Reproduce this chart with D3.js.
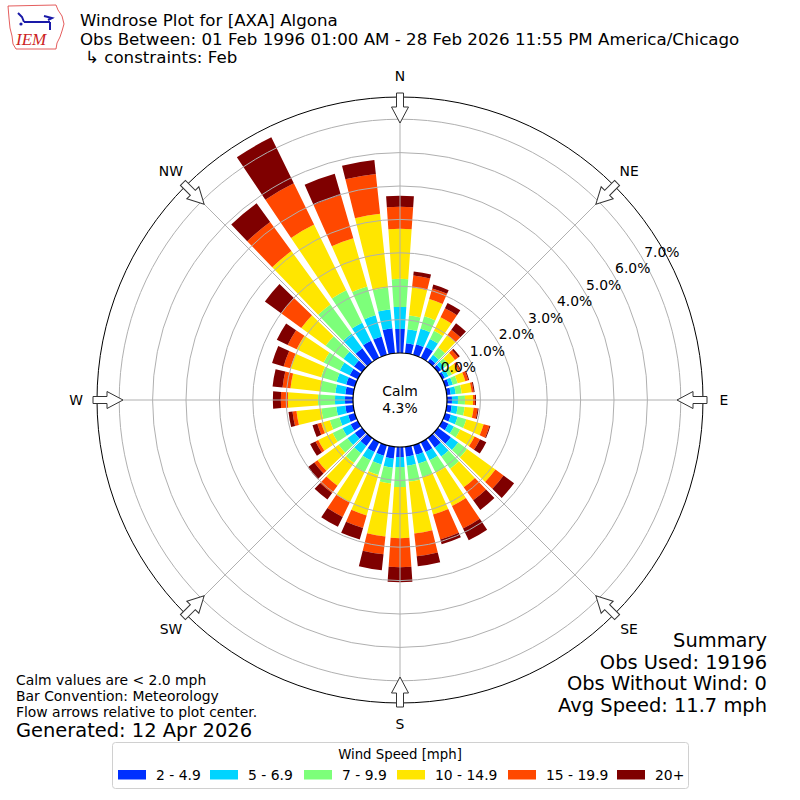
<!DOCTYPE html>
<html>
<head>
<meta charset="utf-8">
<script src="https://cdn.jsdelivr.net/npm/d3@7"></script>
<style>
  body { margin: 0; background: #fff; }
  svg { display: block; font-family: "DejaVu Sans", sans-serif; }
</style>
</head>
<body>
<div id="chart"></div>
<script>
// windrose for AXA Algona, Feb -- percent of obs per 10 degree bin and speed class
const directions = [0, 10, 20, 30, 40, 50, 60, 70, 80, 90, 100, 110, 120, 130, 140, 150, 160, 170,
  180, 190, 200, 210, 220, 230, 240, 250, 260, 270, 280, 290, 300, 310, 320, 330, 340, 350];

const spd2to5 = [0.72, 0.30, 0.33, 0.36, 0.12, 0.12, 0.09, 0.12, 0.12, 0.15, 0.15, 0.18, 0.21, 0.48, 0.36, 0.33, 0.30, 0.30,
  0.30, 0.36, 0.33, 0.33, 0.30, 0.27, 0.24, 0.21, 0.24, 0.24, 0.24, 0.27, 0.27, 0.30, 0.51, 0.57, 0.57, 0.75];
const spd5to7 = [0.66, 0.42, 0.48, 0.27, 0.15, 0.12, 0.12, 0.12, 0.15, 0.18, 0.18, 0.21, 0.18, 0.27, 0.33, 0.27, 0.27, 0.27,
  0.30, 0.27, 0.27, 0.27, 0.27, 0.27, 0.27, 0.27, 0.27, 0.30, 0.30, 0.30, 0.33, 0.39, 0.54, 0.60, 0.66, 0.57];
const spd7to10 = [0.84, 0.42, 0.39, 0.27, 0.27, 0.15, 0.12, 0.15, 0.18, 0.21, 0.21, 0.27, 0.21, 0.33, 0.45, 0.42, 0.42, 0.48,
  0.60, 0.48, 0.33, 0.39, 0.36, 0.33, 0.33, 0.30, 0.45, 0.51, 0.45, 0.48, 0.54, 0.66, 1.08, 1.08, 0.90, 0.66];
const spd10to15 = [1.50, 0.84, 0.54, 0.45, 0.45, 0.24, 0.21, 0.24, 0.30, 0.24, 0.27, 0.54, 0.48, 1.05, 0.69, 1.11, 1.17, 1.56,
  1.53, 1.59, 1.26, 1.02, 0.84, 0.78, 0.48, 0.27, 0.75, 0.90, 0.90, 0.96, 0.90, 0.90, 1.98, 2.19, 1.50, 2.22];
const spd15to20 = [0.66, 0.36, 0.33, 0.30, 0.21, 0.12, 0.06, 0.09, 0.06, 0.06, 0.12, 0.18, 0.18, 0.30, 0.48, 0.75, 0.78, 0.69,
  0.87, 0.54, 0.39, 0.48, 0.27, 0.12, 0.09, 0.12, 0.12, 0.21, 0.24, 0.21, 0.30, 0.75, 1.08, 1.38, 1.35, 1.20];
const spd20plus = [0.33, 0.12, 0.12, 0.18, 0.24, 0.06, 0.03, 0.03, 0.03, 0.03, 0.03, 0.03, 0.21, 0.39, 0.36, 0.39, 0.15, 0.30,
  0.45, 0.48, 0.36, 0.33, 0.24, 0.24, 0.18, 0.15, 0.12, 0.24, 0.30, 0.36, 0.36, 0.60, 0.69, 1.53, 0.66, 0.42];

const speedLabels = ["2 - 4.9", "5 - 6.9", "7 - 9.9", "10 - 14.9", "15 - 19.9", "20+"];
const speedColors = ["#0030ff", "#00d4ff", "#7dff7a", "#ffe600", "#ff4800", "#7f0000"];
const ringTicks = [0, 1, 2, 3, 4, 5, 6, 7];
const compassNames = ["N", "NE", "E", "SE", "S", "SW", "W", "NW"];
const compassAngles = [0, 45, 90, 135, 180, 225, 270, 315];
const calmPct = 4.3;

const titleLines = [
  "Windrose Plot for [AXA] Algona",
  "Obs Between: 01 Feb 1996 01:00 AM - 28 Feb 2026 11:55 PM America/Chicago",
  "↳ constraints: Feb"
];
const noteLines = ["Calm values are < 2.0 mph", "Bar Convention: Meteorology", "Flow arrows relative to plot center."];
const generatedText = "Generated: 12 Apr 2026";
const summaryLines = ["Summary", "Obs Used: 19196", "Obs Without Wind: 0", "Avg Speed: 11.7 mph"];

const W = 800, H = 800, cx = 400, cy = 400;
const rCalm = 47, rOuter = 303;
const fs10 = '13.9px', fs12 = '16.67px', fs14 = '19.44px';   // 10/12/14 pt at 100 dpi

const svg = d3.select('#chart').append('svg')
  .attr('width', W).attr('height', H);

// radius scale: 0% sits on the calm circle
const r = d3.scaleLinear().domain([0, (rOuter - rCalm) / 33.4]).range([rCalm, rOuter]);

const series = [spd2to5, spd5to7, spd7to10, spd10to15, spd15to20, spd20plus];
const rows = directions.map((dir, i) => {
  const row = { dir };
  speedLabels.forEach((k, j) => { row[k] = series[j][i]; });
  return row;
});
const stacked = d3.stack().keys(speedLabels)(rows);

const plot = svg.append('g').attr('transform', `translate(${cx},${cy})`);
const halfW = 3.9 * Math.PI / 180;
const toRad = d => d * Math.PI / 180;

const arc = d3.arc()
  .startAngle(d => toRad(d.data.dir) - halfW)
  .endAngle(d => toRad(d.data.dir) + halfW)
  .innerRadius(d => r(d[0]))
  .outerRadius(d => r(d[1]));

plot.selectAll('g.layer')
  .data(stacked)
  .enter().append('g')
  .attr('class', 'layer')
  .attr('fill', (d, i) => speedColors[i])
  .selectAll('path')
  .data(d => d)
  .enter().append('path')
  .attr('d', arc);

// grid on top of bars
plot.selectAll('circle.ring')
  .data(ringTicks.filter(t => t > 0))
  .enter().append('circle')
  .attr('class', 'ring')
  .attr('r', d => r(d))
  .attr('fill', 'none')
  .attr('stroke', '#b0b0b0')
  .attr('stroke-width', 1);

plot.selectAll('line.spoke')
  .data(compassAngles)
  .enter().append('line')
  .attr('class', 'spoke')
  .attr('x1', d => rCalm * Math.sin(toRad(d)))
  .attr('y1', d => -rCalm * Math.cos(toRad(d)))
  .attr('x2', d => rOuter * Math.sin(toRad(d)))
  .attr('y2', d => -rOuter * Math.cos(toRad(d)))
  .attr('stroke', '#b0b0b0')
  .attr('stroke-width', 1);

plot.append('circle')
  .attr('r', rOuter)
  .attr('fill', 'none')
  .attr('stroke', '#000')
  .attr('stroke-width', 1);

// calm hole
plot.append('circle')
  .attr('r', rCalm)
  .attr('fill', '#fff')
  .attr('stroke', '#000')
  .attr('stroke-width', 1.2);

plot.append('text')
  .attr('text-anchor', 'middle')
  .attr('y', -4)
  .style('font-size', fs10)
  .text('Calm');
plot.append('text')
  .attr('text-anchor', 'middle')
  .attr('y', 13)
  .style('font-size', fs10)
  .text(calmPct.toFixed(1) + '%');

// hollow arrows pointing in at the rim
const arrowPts = [[-3.5, -307], [3.5, -307], [3.5, -293], [8.5, -293], [0, -277], [-8.5, -293], [-3.5, -293]];
plot.selectAll('path.arrow')
  .data(compassAngles)
  .enter().append('path')
  .attr('class', 'arrow')
  .attr('d', 'M' + arrowPts.map(p => p.join(',')).join('L') + 'Z')
  .attr('transform', d => `rotate(${d})`)
  .attr('fill', '#fff')
  .attr('stroke', '#333')
  .attr('stroke-width', 1);

plot.selectAll('text.compass')
  .data(compassAngles)
  .enter().append('text')
  .attr('class', 'compass')
  .attr('x', d => 324 * Math.sin(toRad(d)))
  .attr('y', d => -324 * Math.cos(toRad(d)))
  .attr('text-anchor', 'middle')
  .attr('dominant-baseline', 'central')
  .style('font-size', fs10)
  .text((d, i) => compassNames[i]);

// radial tick labels along ~60 deg
const labAng = toRad(60.5);
plot.selectAll('text.rlab')
  .data(ringTicks)
  .enter().append('text')
  .attr('class', 'rlab')
  .attr('x', d => (r(d) + 20) * Math.sin(labAng))
  .attr('y', d => -(r(d) + 20) * Math.cos(labAng))
  .attr('text-anchor', 'middle')
  .attr('dominant-baseline', 'central')
  .style('font-size', fs10)
  .text(d => d.toFixed(1) + '%');

// titles
svg.selectAll('text.title')
  .data(titleLines)
  .enter().append('text')
  .attr('class', 'title')
  .attr('x', (d, i) => i === 2 ? 85 : 80)
  .attr('y', (d, i) => 26 + i * 18.5)
  .style('font-size', fs12)
  .text(d => d);

// logo, roughly the IEM mark
const logo = svg.append('g');
logo.append('path')
  .attr('d', 'M8,6 L56,5 L58,10 L62,16 L64,24 L62,31 L60,37 L57,43 L56,49 L16,49 L13,44 L12,36 L10,28 L9,18 Z')
  .attr('fill', 'none').attr('stroke', '#d33').attr('stroke-width', 0.8);
logo.append('path')
  .attr('d', 'M18,13 L22,17 L24,22 M24,22 L50,22 M44,16 L52,18 L48,20 M50,22 L50,30')
  .attr('fill', 'none').attr('stroke', '#1a1aa8').attr('stroke-width', 2);
logo.append('circle').attr('cx', 21).attr('cy', 24).attr('r', 1.6).attr('fill', '#1a1aa8');
logo.append('text')
  .attr('x', 16).attr('y', 45)
  .style('font-family', '"Liberation Serif", serif')
  .style('font-style', 'italic')
  .style('font-size', '17px')
  .attr('fill', '#c22')
  .text('IEM');

// footnotes
svg.selectAll('text.note')
  .data(noteLines)
  .enter().append('text')
  .attr('class', 'note')
  .attr('x', 16)
  .attr('y', (d, i) => 685 + i * 16)
  .style('font-size', fs10)
  .text(d => d);
svg.append('text')
  .attr('x', 16).attr('y', 737)
  .style('font-size', fs14)
  .text(generatedText);

svg.selectAll('text.summary')
  .data(summaryLines)
  .enter().append('text')
  .attr('class', 'summary')
  .attr('x', 767)
  .attr('y', (d, i) => 647 + i * 21.5)
  .attr('text-anchor', 'end')
  .style('font-size', fs14)
  .text(d => d);

// legend
const legend = svg.append('g');
legend.append('rect')
  .attr('x', 112.5).attr('y', 742.5)
  .attr('width', 576).attr('height', 46)
  .attr('rx', 3)
  .attr('fill', '#fff')
  .attr('stroke', '#d0d0d0');
legend.append('text')
  .attr('x', 400).attr('y', 759)
  .attr('text-anchor', 'middle')
  .style('font-size', '13.3px')
  .text('Wind Speed [mph]');
const patchX = [118, 210, 304, 397, 508, 617];
const items = legend.selectAll('g.item')
  .data(speedLabels)
  .enter().append('g')
  .attr('class', 'item')
  .attr('transform', (d, i) => `translate(${patchX[i]},770)`);
items.append('rect')
  .attr('width', 28).attr('height', 9.5)
  .attr('fill', (d, i) => speedColors[i]);
items.append('text')
  .attr('x', 38).attr('y', 9.5)
  .style('font-size', fs10)
  .text(d => d);
</script>
</body>
</html>
